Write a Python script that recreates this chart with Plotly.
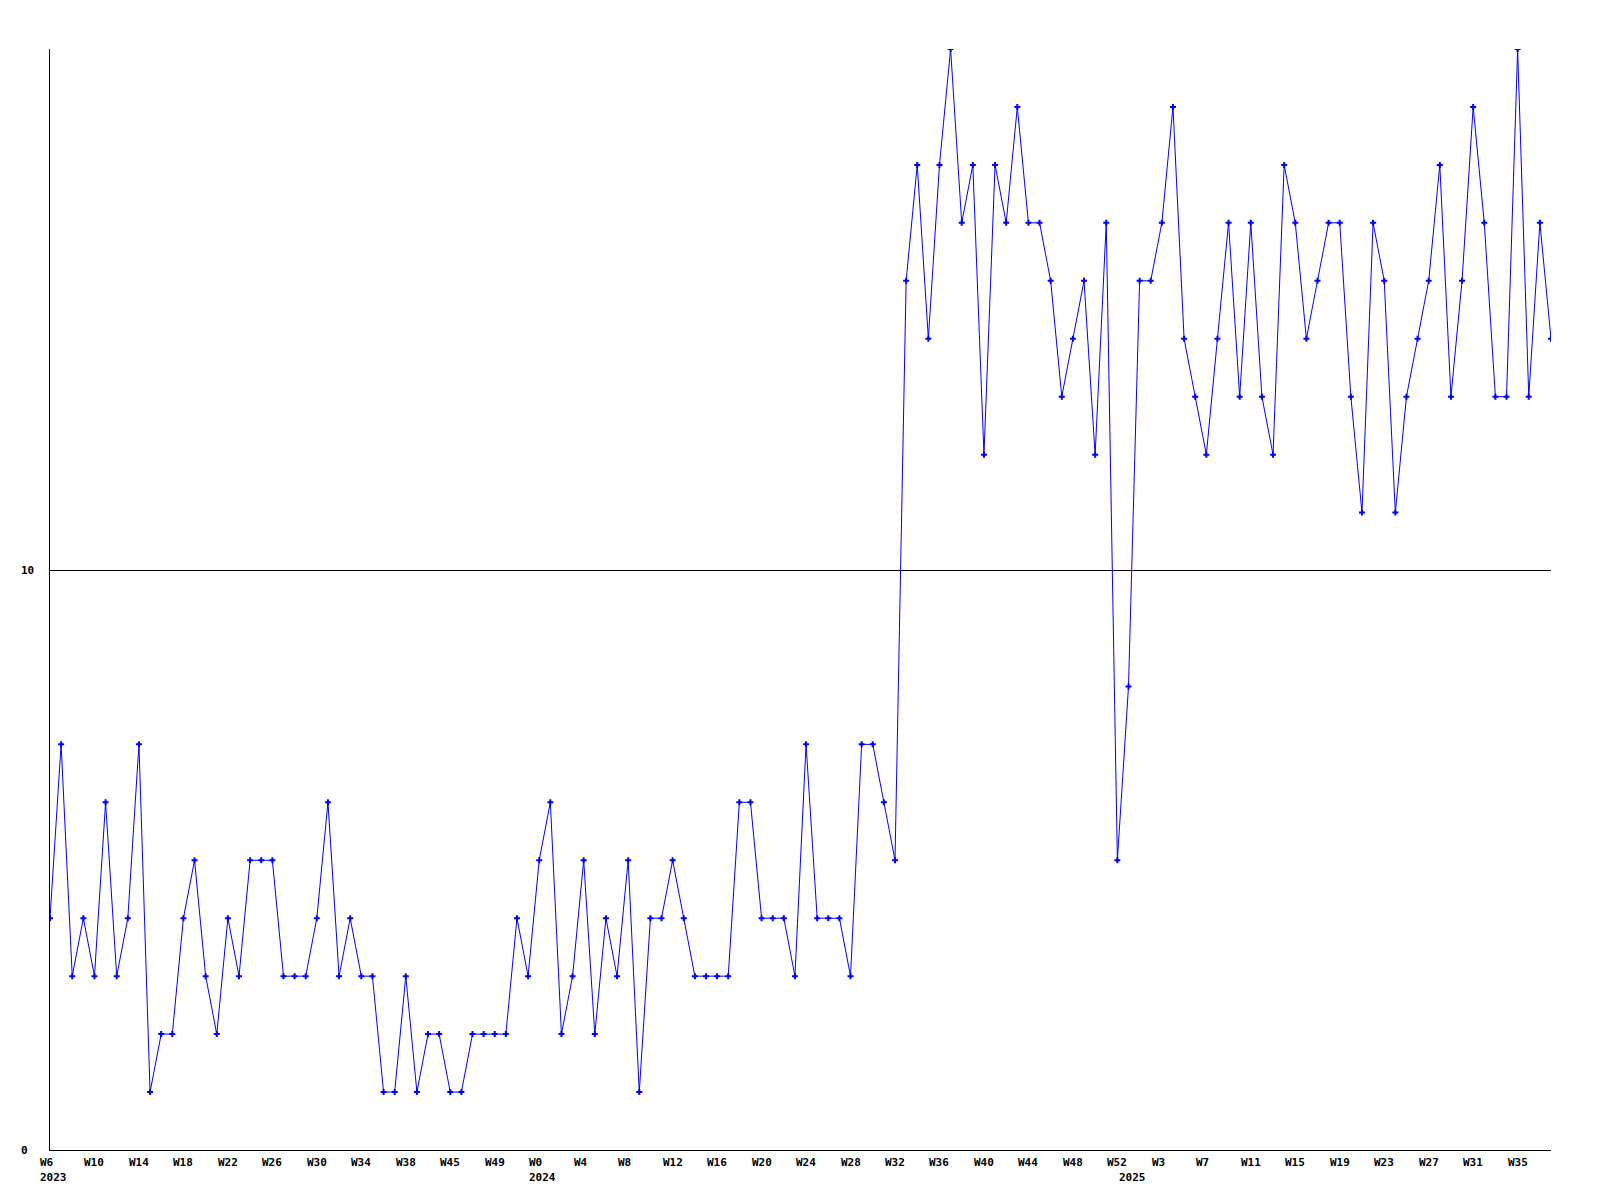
import plotly.graph_objects as go

# ---- data ----
values = [
    4, 7, 3, 4, 3, 6, 3, 4, 7, 1,
    2, 2, 4, 5, 3, 2, 4, 3, 5, 5,
    5, 3, 3, 3, 4, 6, 3, 4, 3, 3,
    1, 1, 3, 1, 2, 2, 1, 1, 2, 2,
    2, 2, 4, 3,
    5, 6, 2, 3, 5, 2, 4, 3, 5, 1,
    4, 4, 5, 4, 3, 3, 3, 3, 6, 6,
    4, 4, 4, 3, 7, 4, 4, 4, 3, 7,
    7, 6, 5,
    15, 17, 14, 17, 19, 16, 17, 12, 17, 16,
    18, 16, 16, 15, 13, 14, 15, 12, 16,
    5, 8,
    15, 15, 16, 18, 14, 13, 12, 14, 16, 13,
    16, 13, 12,
    17, 16, 14, 15, 16, 16, 13, 11, 16, 15,
    11, 13, 14, 15, 17, 13, 15, 18, 16, 13,
    13, 19, 13, 16, 14,
]
week_labels = [
    "W6", "W10", "W14", "W18", "W22", "W26", "W30", "W34", "W38", "W45", "W49",
    "W0", "W4", "W8", "W12", "W16", "W20", "W24", "W28", "W32", "W36", "W40",
    "W44", "W48", "W52",
    "W3", "W7", "W11", "W15", "W19", "W23", "W27", "W31", "W35",
]
year_labels = ["2023", "2024", "2025"]
year_points = [1, 45, 98]
y_tick_vals = [0, 10]
y_tick_text = ["0", "10"]
tick_every = 4

points = list(range(1, len(values) + 1))
tick_points = points[::tick_every][:len(week_labels)]

BLUE = "#0000ff"
FONT = dict(family="DejaVu Sans Mono", size=11, color="black", weight="bold")

fig = go.Figure()
fig.add_trace(go.Scatter(
    x=points, y=values, mode="lines+markers",
    line=dict(color=BLUE, width=1),
    marker=dict(symbol="cross", size=5, color=BLUE),
    showlegend=False, hoverinfo="skip",
))

annotations = []
for p, t in zip(tick_points, week_labels):
    annotations.append(dict(x=p, y=0, xref="x", yref="paper", text=t,
                            showarrow=False, xanchor="left", yanchor="middle",
                            xshift=-11, yshift=-12, borderpad=0, font=FONT))
for p, t in zip(year_points, year_labels):
    annotations.append(dict(x=p, y=0, xref="x", yref="paper", text=t,
                            showarrow=False, xanchor="left", yanchor="middle",
                            xshift=-11, yshift=-27, borderpad=0, font=FONT))
for v, t in zip(y_tick_vals, y_tick_text):
    annotations.append(dict(x=0, y=v, xref="paper", yref="y", text=t,
                            showarrow=False, xanchor="left", yanchor="middle",
                            xshift=-30, borderpad=0, font=FONT))

fig.update_layout(
    width=1600, height=1200,
    margin=dict(l=50, r=49, t=49, b=50, pad=0),
    paper_bgcolor="white", plot_bgcolor="white",
    annotations=annotations,
    xaxis=dict(range=[1, len(values)], showgrid=False, zeroline=False,
               showline=True, linecolor="black", linewidth=1,
               showticklabels=False, ticks=""),
    yaxis=dict(range=[0, 19], tickvals=y_tick_vals, showticklabels=False,
               showgrid=True, gridcolor="black", gridwidth=1, zeroline=False,
               showline=True, linecolor="black", linewidth=1, ticks=""),
)

fig.write_html("out.html", config={"displayModeBar": False},
               post_script="document.body.style.margin='0';")
